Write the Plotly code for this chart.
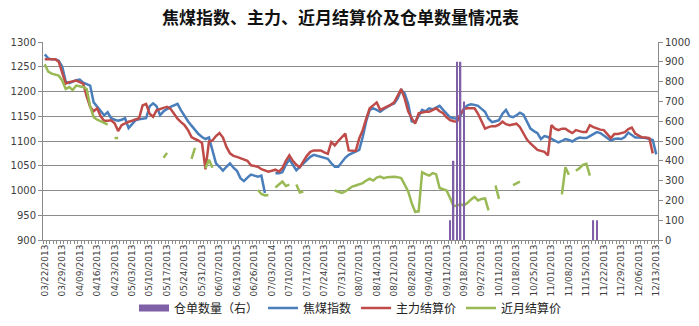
import plotly.graph_objects as go

# ---- tick labels (every 5th trading day) ----
tick_labels = ["03/22/2013", "03/29/2013", "04/09/2013", "04/16/2013", "04/23/2013", "05/03/2013",
               "05/10/2013", "05/17/2013", "05/24/2013", "05/31/2013", "06/07/2013", "06/19/2015",
               "06/26/2013", "07/03/2014", "07/10/2013", "07/17/2013", "07/24/2013", "07/31/2013",
               "08/07/2013", "08/14/2013", "08/21/2013", "08/28/2013", "09/04/2013", "09/11/2013",
               "09/18/2013", "09/27/2013", "10/11/2013", "10/18/2013", "10/25/2013", "11/01/2013",
               "11/08/2013", "11/15/2013", "11/22/2013", "11/29/2013", "12/06/2013", "12/13/2013"]
label_step = 5

# ---- 焦煤指数 ----
coke_index = [
    1275, 1267, 1265, 1265, 1262, 1250, 1220, 1217, 1220, 1223,
    1224, 1218, 1215, 1212, 1178, 1170, 1160, 1152, 1158, 1146,
    1143, 1141, 1143, 1146, 1126, 1134, 1142, 1144, 1145, 1146,
    1170, 1176, 1170, 1152, 1160, 1165, 1169, 1172, 1175, 1162,
    1150, 1140, 1131, 1122, 1114, 1108, 1104, 1107, 1080, 1055,
    1048, 1040, 1048, 1055, 1046, 1040, 1025, 1019, 1026, 1032,
    1030, 1028, 1030, 995, None, None, 1035, 1035, 1037, 1052,
    1063, 1052, 1041, 1048, 1055, 1062, 1068, 1072, 1070, 1067,
    1066, 1064, 1055, 1048, 1048, 1057, 1066, 1072, 1075, 1078,
    1082, 1108, 1140, 1163, 1166, 1163, 1159, 1164, 1169, 1173,
    1176, 1186, 1203, 1196, 1175, 1140, 1138, 1150, 1163, 1160,
    1166, 1164, 1168, 1171, 1163, 1155, 1148, 1146, 1145, 1152,
    1166, 1172, 1174, 1173, 1171, 1165, 1159, 1145, 1138, 1140,
    1142, 1155, 1163, 1150, 1148, 1152, 1157, 1153, 1140, 1125,
    1120, 1116, 1104, 1110, 1108, 1104, 1100, 1097, 1100, 1104,
    1102, 1099, 1104, 1107, 1106, 1106, 1110, 1114, 1118, 1116,
    1111, 1106, 1101, 1104, 1105, 1104, 1108, 1117, 1112, 1107,
    1107, 1107, 1106, 1104, 1102, 1073]

# ---- 主力结算价 ----
main_settle = [
    1265, 1265, 1265, 1265, 1260, 1236, 1216, 1219, 1220, 1222,
    1219, 1216, 1190, 1169, 1160, 1166, 1150, 1141, 1141, 1142,
    1136, 1120, 1132, 1136, 1139, 1141, 1144, 1146, 1172, 1175,
    1155, 1149, 1162, 1165, 1167, 1169, 1165, 1155, 1145, 1138,
    1132, 1122, 1108, 1104, 1101, 1096, 1043, 1099, 1101, 1110,
    1116, 1107, 1088, 1075, 1070, 1068, 1065, 1062, 1060, 1051,
    1050, 1048, 1043, 1040, 1038, 1040, 1042, 1038, 1045, 1060,
    1071, 1060, 1052, 1047, 1060, 1070, 1078, 1081, 1081, 1081,
    1077, 1074, 1098, 1091, 1100, 1108, 1115, 1081, 1080, 1080,
    1105, 1122, 1145, 1166, 1172, 1178, 1163, 1166, 1170, 1173,
    1178, 1190, 1205, 1186, 1160, 1146, 1135, 1156, 1158, 1159,
    1159, 1162, 1166, 1160, 1156, 1148, 1142, 1140, 1139, 1155,
    1165, 1166, 1166, 1166, 1155, 1140, 1125, 1128, 1130, 1130,
    1133, 1139, 1134, 1132, 1133, 1135, 1128, 1115, 1103, 1095,
    1088, 1082, 1080, 1078, 1071, 1132, 1125, 1122, 1125, 1125,
    1120, 1116, 1122, 1120, 1118, 1118, 1132, 1128, 1125, 1123,
    1122, 1115, 1106, 1114, 1114, 1116, 1118, 1124, 1127, 1115,
    1111, 1107, 1107, 1106, 1075, None]

# ---- 近月结算价 ----
near_settle = [
    1255, 1240, 1236, 1234, 1232, 1222, 1205, 1209, 1203, 1212,
    1211, 1209, 1205, 1170, 1148, 1143, 1140, 1136, 1133, None,
    1106, 1106, None, None, None, None, None, None, None, None,
    None, None, None, None, 1066, 1076, None, None, None, None,
    None, None, 1064, 1086, None, None, 1045, 1062, 1046, None,
    None, None, None, None, None, None, None, None, None, None,
    None, 1001, 993, 990, 991, None, 1006, 1012, 1018, 1009,
    1012, None, 1012, 996, 998, None, None, None, None, None,
    None, None, None, 1000, 997, 995, 998, 1003, 1008, 1010,
    1013, 1015, 1020, 1024, 1020, 1026, 1028, 1025, 1027, 1028,
    1028, 1027, 1025, 1012, 998, 975, 957, 958, 1037, 1033,
    1030, 1035, 1033, 1005, 1003, 1000, 985, 968, 970, 972,
    970, 975, 982, 987, 980, 983, 984, 960, None, 1010,
    983, None, None, None, 1011, 1015, 1018, None, None, None,
    None, None, None, None, None, None, None, None, 992, 1047,
    1032, None, 1040, 1045, 1052, 1054, 1030, None, None, None,
    None, None, None, None, None, None, None, None, None, None,
    None, None, None, None, None, None]

# ---- 仓单数量 (right axis) ----
warrants = [
    0, 0, 0, 0, 0, 0, 0, 0, 0, 0,
    0, 0, 0, 0, 0, 0, 0, 0, 0, 0,
    0, 0, 0, 0, 0, 0, 0, 0, 0, 0,
    0, 0, 0, 0, 0, 0, 0, 0, 0, 0,
    0, 0, 0, 0, 0, 0, 0, 0, 0, 0,
    0, 0, 0, 0, 0, 0, 0, 0, 0, 0,
    0, 0, 0, 0, 0, 0, 0, 0, 0, 0,
    0, 0, 0, 0, 0, 0, 0, 0, 0, 0,
    0, 0, 0, 0, 0, 0, 0, 0, 0, 0,
    0, 0, 0, 0, 0, 0, 0, 0, 0, 0,
    0, 0, 0, 0, 0, 0, 0, 0, 0, 0,
    0, 0, 0, 0, 0, 0, 100, 400, 900, 900,
    700, 0, 0, 0, 0, 0, 0, 0, 0, 0,
    0, 0, 0, 0, 0, 0, 0, 0, 0, 0,
    0, 0, 0, 0, 0, 0, 0, 0, 0, 0,
    0, 0, 0, 0, 0, 0, 0, 100, 100, 0,
    0, 0, 0, 0, 0, 0, 0, 0, 0, 0,
    0, 0, 0, 0, 0, 0]

n = len(coke_index)
x = list(range(n))
tickvals = list(range(0, n, label_step))

GRID = "#8c8c8c"
TXT = "#404040"
CJK = "Noto Sans CJK SC"
PURPLE = "#7F60A6"

fig = go.Figure()
fig.add_trace(go.Bar(x=x, y=warrants, name="仓单数量（右）", marker=dict(color=PURPLE, line=dict(width=0)),
                     width=0.42, yaxis="y2", showlegend=False, legendgroup="w"))
# legend swatch for the bar series (wide rectangle like the original)
fig.add_trace(go.Scatter(x=[None], y=[None], name="仓单数量（右）", mode="lines", yaxis="y2",
                         line=dict(color=PURPLE, width=7), legendgroup="w", legendrank=1))
fig.add_trace(go.Scatter(x=x, y=coke_index, name="焦煤指数", mode="lines", legendrank=2,
                         line=dict(color="#4A7EBB", width=2.5), connectgaps=False))
fig.add_trace(go.Scatter(x=x, y=main_settle, name="主力结算价", mode="lines", legendrank=3,
                         line=dict(color="#BE4B48", width=2.5), connectgaps=False))
fig.add_trace(go.Scatter(x=x, y=near_settle, name="近月结算价", mode="lines", legendrank=4,
                         line=dict(color="#98B954", width=2.5), connectgaps=False))

fig.update_layout(
    width=699, height=326,
    margin=dict(l=43, r=41, t=42, b=86, autoexpand=False),
    paper_bgcolor="white", plot_bgcolor="white",
    title=dict(text="<b>焦煤指数、主力、近月结算价及仓单数量情况表</b>", x=0.487, xanchor="center",
               y=0.945, yanchor="middle", font=dict(family=CJK, size=17, color="#111111")),
    showlegend=True,
    legend=dict(orientation="h", x=0.5, xanchor="center", yref="container", y=0.055, yanchor="middle",
                font=dict(family=CJK, size=12, color="#222222"), bgcolor="rgba(0,0,0,0)",
                traceorder="normal"),
    xaxis=dict(range=[-0.5, n - 0.5], tickvals=tickvals, ticktext=tick_labels, tickangle=-90,
               tickfont=dict(family="DejaVu Sans", size=9, color=TXT), showgrid=False, automargin=False,
               showline=True, linecolor=GRID, linewidth=1, ticks="", zeroline=False,
               minor=dict(ticks="outside", ticklen=3, tick0=-0.5, dtick=1, tickcolor=GRID, showgrid=False)),
    yaxis=dict(range=[900, 1300], dtick=50, tickfont=dict(family="DejaVu Sans", size=10, color=TXT),
               showgrid=True, gridcolor=GRID, gridwidth=1, showline=True, linecolor=GRID, automargin=False,
               ticks="outside", ticklen=4, tickcolor=GRID, zeroline=False),
    yaxis2=dict(range=[0, 1000], dtick=100, overlaying="y", side="right", automargin=False,
                tickfont=dict(family="DejaVu Sans", size=10, color=TXT), showgrid=False,
                showline=True, linecolor=GRID, ticks="outside", ticklen=4, tickcolor=GRID, zeroline=False),
)

fig.write_html("out.html")
